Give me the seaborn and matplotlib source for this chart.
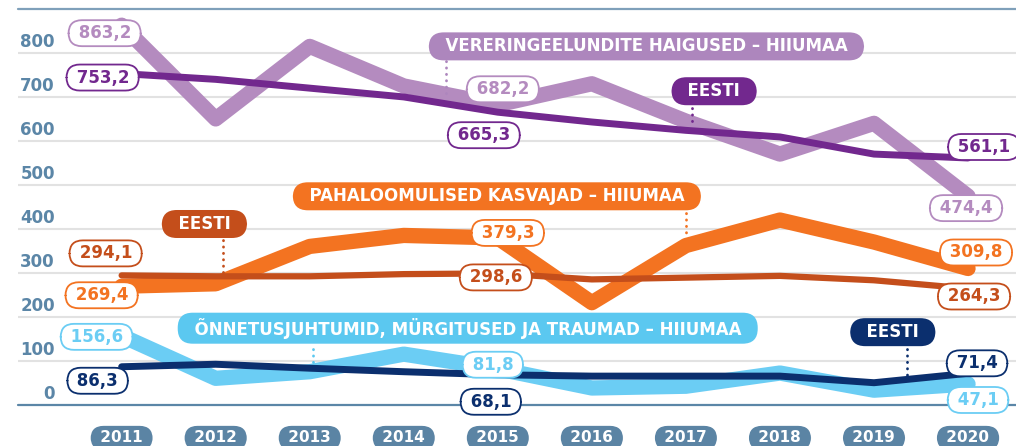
import numpy as np
import pandas as pd
import seaborn as sns
import matplotlib
matplotlib.use("Agg")
import matplotlib.pyplot as plt
from matplotlib.transforms import blended_transform_factory

# ---------------- data ----------------
years = [2011, 2012, 2013, 2014, 2015, 2016, 2017, 2018, 2019, 2020]
year_labels = ["2011", "2012", "2013", "2014", "2015", "2016", "2017", "2018", "2019", "2020"]

circ_hiiumaa = [863.2, 650, 815, 725, 682.2, 730, 645, 570, 640, 474.4]
circ_eesti = [753.2, 740, 720, 700, 665.3, 643, 624, 609, 570, 561.1]
tum_hiiumaa = [269.4, 275, 360, 385, 379.3, 232, 362, 420, 370, 309.8]
tum_eesti = [294.1, 292, 292, 297, 298.6, 285, 289, 293, 283, 264.3]
acc_hiiumaa = [156.6, 60, 75, 115, 81.8, 38, 42, 72, 33, 47.1]
acc_eesti = [86.3, 92, 83, 75, 68.1, 65, 65, 65, 50, 71.4]

y_ticks = [0, 100, 200, 300, 400, 500, 600, 700, 800]

title_circ = "VERERINGEELUNDITE HAIGUSED – HIIUMAA"
title_tum = "PAHALOOMULISED KASVAJAD – HIIUMAA"
title_acc = "ÕNNETUSJUHTUMID, MÜRGITUSED JA TRAUMAD – HIIUMAA"
title_eesti = "EESTI"

# ---------------- style ----------------
C_LPURPLE = "#B48BBF"
C_LPURPLE_PILL = "#AD86BD"
C_DPURPLE = "#72288E"
C_ORANGE = "#F37321"
C_BROWN = "#C44E1B"
C_LBLUE = "#6BCDF4"
C_LBLUE_PILL = "#5BC8F0"
C_NAVY = "#0B2F6E"
C_STEEL = "#5B86A7"
C_GRID = "#E2E2E2"

sns.set_theme(style="white")
plt.rcParams["font.family"] = ["DejaVu Sans"]

W, H = 1016, 446
fig = plt.figure(figsize=(W / 100, H / 100), dpi=100)
ax_left, ax_right, ax_top, ax_bottom = 18, 1016, 9, 404.7
ax = fig.add_axes([ax_left / W, (H - ax_bottom) / H,
                   (ax_right - ax_left) / W, (ax_bottom - ax_top) / H])
ax.set_xlim(2009.898, 2020.51)
ax.set_ylim(0, 900)
for s in ax.spines.values():
    s.set_visible(False)
ax.set_xticks([])
ax.set_yticks([])

# grid + frame lines
for v in y_ticks[1:]:
    ax.axhline(v, color=C_GRID, lw=1.5, zorder=0)
ax.axhline(900, color="#7FA0BA", lw=1.6, zorder=0, clip_on=False)
ax.axhline(0, color=C_STEEL, lw=1.6, zorder=0, clip_on=False)

# y tick labels (above gridlines)
ytrans = blended_transform_factory(ax.transAxes, ax.transData)
for v in y_ticks:
    ax.annotate(str(v), xy=(0.037, v), xycoords=ytrans, xytext=(0, 8),
                textcoords="offset points", ha="right", va="center",
                fontsize=12, fontweight="bold", color=C_STEEL, zorder=1)

# series
df = pd.DataFrame({
    "year": years,
    "circ_h": circ_hiiumaa, "circ_e": circ_eesti,
    "tum_h": tum_hiiumaa, "tum_e": tum_eesti,
    "acc_h": acc_hiiumaa, "acc_e": acc_eesti,
})
series_style = [
    ("circ_h", C_LPURPLE, 11, 2),
    ("tum_h", C_ORANGE, 11, 2),
    ("acc_h", C_LBLUE, 11, 2),
    ("circ_e", C_DPURPLE, 5, 3),
    ("tum_e", C_BROWN, 4.5, 3),
    ("acc_e", C_NAVY, 5, 3),
]
for col, color, lw, z in series_style:
    sns.lineplot(data=df, x="year", y=col, ax=ax, color=color, linewidth=lw,
                 solid_capstyle="round", solid_joinstyle="round", zorder=z,
                 legend=False)
ax.set_xlabel("")
ax.set_ylabel("")

# value labels: (series, index, dx px, dy px (down), color)
PX = 0.72
value_labels = [
    (circ_hiiumaa, 0, -17, 8, C_LPURPLE),
    (circ_eesti, 0, -19, 4, C_DPURPLE),
    (circ_hiiumaa, 4, 5, -15.5, C_LPURPLE),
    (circ_eesti, 4, -14, 23, C_DPURPLE),
    (circ_eesti, 9, 16, -11, C_DPURPLE),
    (circ_hiiumaa, 9, -2, 12, C_LPURPLE),
    (tum_eesti, 0, -16, -22, C_BROWN),
    (tum_hiiumaa, 0, -20, 9, C_ORANGE),
    (tum_hiiumaa, 4, 10, -5, C_ORANGE),
    (tum_eesti, 4, -2, 4, C_BROWN),
    (tum_hiiumaa, 9, 8, -16, C_ORANGE),
    (tum_eesti, 9, 6, 8, C_BROWN),
    (acc_hiiumaa, 0, -25, 1, C_LBLUE),
    (acc_eesti, 0, -24, 14, C_NAVY),
    (acc_hiiumaa, 4, -5, -4, C_LBLUE),
    (acc_eesti, 4, -7, 27, C_NAVY),
    (acc_eesti, 9, 9, -10, C_NAVY),
    (acc_hiiumaa, 9, 10, 16, C_LBLUE),
]
for ser, i, dx, dy, color in value_labels:
    txt = " " + f"{ser[i]:.1f}".replace(".", ",") + " "
    ax.annotate(txt, xy=(years[i], ser[i]), xytext=(dx * PX, -dy * PX),
                textcoords="offset points", ha="center", va="center",
                fontsize=12, fontweight="bold", color=color, zorder=6,
                bbox=dict(boxstyle="round,pad=0.24,rounding_size=0.8",
                          fc="white", ec=color, lw=1.3))

# title pills: (text, x, y, color)
pill_box = "round,pad=0.3,rounding_size=0.9"
title_pills = [
    (title_circ, 2016.58, 815, C_LPURPLE_PILL),
    (title_eesti, 2017.30, 713, C_DPURPLE),
    (title_tum, 2014.99, 474, C_ORANGE),
    (title_eesti, 2011.88, 411, C_BROWN),
    (title_acc, 2014.68, 174, C_LBLUE_PILL),
    (title_eesti, 2019.20, 165, C_NAVY),
]
for txt, x, y, color in title_pills:
    ax.text(x, y, "  " + txt + "  ", ha="center", va="center", color="white",
            fontsize=12, fontweight="bold", zorder=5,
            bbox=dict(boxstyle=pill_box, fc=color, ec="none"))

# dotted connectors: (x, y0, y1, color)
connectors = [
    (2014.45, 781, 699, C_LPURPLE_PILL),
    (2017.06, 674, 636, C_DPURPLE),
    (2017.00, 437, 382, C_ORANGE),
    (2012.08, 374, 297, C_BROWN),
    (2013.03, 127, 95, C_LBLUE_PILL),
    (2019.35, 127, 67, C_NAVY),
]
for x, y0, y1, color in connectors:
    ax.plot([x, x], [y0, y1], color=color, lw=2, linestyle=(0, (0.1, 2.2)),
            dash_capstyle="round", zorder=4)

# year pills
xtrans = blended_transform_factory(ax.transData, ax.transAxes)
for yr, lab in zip(years, year_labels):
    ax.text(yr, -0.084, " " + lab + " ", transform=xtrans, ha="center",
            va="center", fontsize=11, fontweight="bold", color="white",
            clip_on=False, zorder=5,
            bbox=dict(boxstyle="round,pad=0.3,rounding_size=0.85",
                      fc="#5B84A4", ec="none"))

fig.savefig("out.png", dpi=100)
